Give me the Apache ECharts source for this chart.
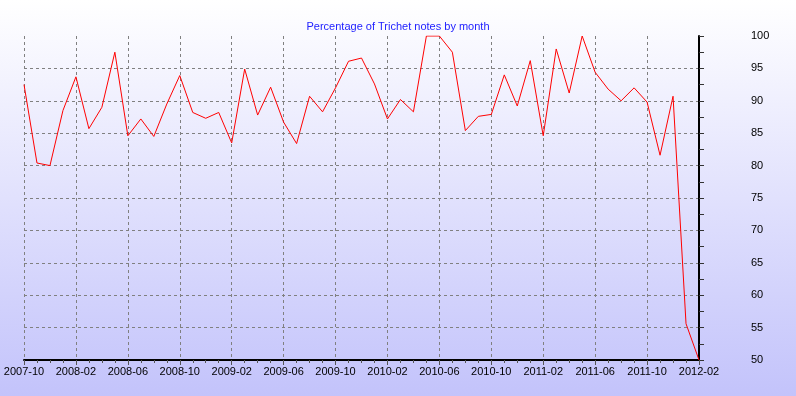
<!DOCTYPE html>
<html>
<head>
<meta charset="utf-8">
<script src="https://cdn.jsdelivr.net/npm/echarts@6/dist/echarts.min.js"></script>
<style>
html,body{margin:0;padding:0;}
#chart{width:796px;height:396px;background:linear-gradient(to bottom,#ffffff 0%,#c3c3fb 100%);}
</style>
</head>
<body>
<div id="chart"></div>
<script>
const titleText = "Percentage of Trichet notes by month";
const months = [
"2007-10","2007-11","2007-12","2008-01","2008-02","2008-03","2008-04","2008-05","2008-06","2008-07","2008-08","2008-09",
"2008-10","2008-11","2008-12","2009-01","2009-02","2009-03","2009-04","2009-05","2009-06","2009-07","2009-08","2009-09",
"2009-10","2009-11","2009-12","2010-01","2010-02","2010-03","2010-04","2010-05","2010-06","2010-07","2010-08","2010-09",
"2010-10","2010-11","2010-12","2011-01","2011-02","2011-03","2011-04","2011-05","2011-06","2011-07","2011-08","2011-09",
"2011-10","2011-11","2011-12","2012-01","2012-02"];
const percentages = [
92.5,80.4,80.0,88.5,93.7,85.7,89.0,97.5,84.6,87.2,84.5,89.5,
93.9,88.2,87.3,88.2,83.5,94.9,87.8,92.1,86.7,83.4,90.7,88.3,
92.0,96.1,96.6,92.6,87.2,90.2,88.3,100,100,97.5,85.4,87.6,
87.9,94.0,89.2,96.2,84.6,98.0,91.2,100,94.4,91.8,90.0,92.0,
89.8,81.6,90.7,55.6,50.0];
const yMin = 50, yMax = 100, yStep = 5;

const chart = echarts.init(document.getElementById('chart'), null, {renderer:'canvas'});
const font = 'Liberation Sans';
chart.setOption({
  animation:false,
  backgroundColor:'transparent',
  title:{text:titleText,left:'center',top:16,textStyle:{color:'#2222ff',fontSize:11,fontWeight:'normal',fontFamily:font}},
  grid:{left:24,right:97,top:36,bottom:36,containLabel:false},
  xAxis:[{
    type:'category',data:months,boundaryGap:false,position:'bottom',
    axisLine:{show:true,onZero:false,lineStyle:{color:'#000',width:2}},
    axisTick:{show:true,interval:0,length:3,lineStyle:{color:'#555',width:1}},
    axisLabel:{interval:3,margin:6,color:'#000',fontSize:11,fontFamily:font},
    splitLine:{show:true,interval:3,lineStyle:{color:'#808080',type:[3,3],width:1}}
  },{
    type:'category',data:months,boundaryGap:false,position:'bottom',
    axisLine:{show:false},
    axisTick:{show:true,interval:3,length:5,lineStyle:{color:'#555',width:1}},
    axisLabel:{show:false},splitLine:{show:false}
  }],
  yAxis:{
    type:'value',position:'right',min:yMin,max:yMax,interval:yStep,
    axisLine:{show:true,lineStyle:{color:'#000',width:2}},
    axisTick:{show:true,length:5,lineStyle:{color:'#333'}},
    minorTick:{show:true,splitNumber:2,length:5,lineStyle:{color:'#333'}},
    axisLabel:{margin:52,align:'left',color:'#000',fontSize:11,fontFamily:font},
    splitLine:{show:true,showMaxLine:false,lineStyle:{color:'#808080',type:[3,3],width:1}}
  },
  series:[{
    type:'line',data:percentages,showSymbol:false,symbol:'none',clip:true,
    lineStyle:{color:'#ff0000',width:1},xAxisIndex:0
  }]
});
</script>
</body>
</html>
